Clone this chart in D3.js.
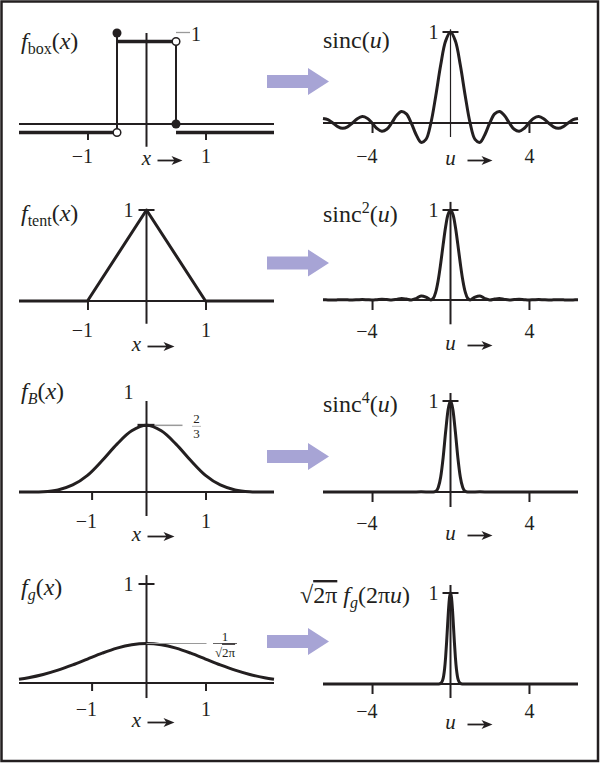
<!DOCTYPE html>
<html><head><meta charset="utf-8">
<script src="https://cdn.jsdelivr.net/npm/d3@7/dist/d3.min.js"></script>
<style>
body{margin:0;background:#fff}
svg{display:block}
text{font-family:"Liberation Serif","Times New Roman",serif;fill:#231f20}
</style>
</head><body>
<svg id="c" width="600" height="763"></svg>
<script>
// ---------------- data ----------------
const leftDomain = [-2.16, 2.16];
const rightDomain = [-6.5, 6.5];
const leftTicks = [-1, 1];
const leftTicksShifted = [-0.93, 1];
const leftTickLabels = ["−1", "1"];
const rightTicks = [-4, 4];
const rightTickLabels = ["−4", "4"];

// box filter: interval edges and value on each interval
const boxEdges = [-2.16, -0.5, 0.5, 2.16];
const boxValues = [0, 1, 0];

// tent filter
const tentX = [-2.16, -1, 0, 1, 2.16];
const tentY = [0, 0, 1, 0, 0];

// cubic B-spline
const bsplineX = [-2.16, -2, -1.75, -1.5, -1.25, -1, -0.75, -0.5, -0.25, 0, 0.25, 0.5, 0.75, 1, 1.25, 1.5, 1.75, 2, 2.16];
const bsplineY = [0, 0, 0.0026, 0.0208, 0.0703, 0.1667, 0.3151, 0.4792, 0.6120, 0.6667, 0.6120, 0.4792, 0.3151, 0.1667, 0.0703, 0.0208, 0.0026, 0, 0];
const bsplinePeak = 0.6667;

// gaussian
const gaussX = [-2.16, -2, -1.75, -1.5, -1.25, -1, -0.75, -0.5, -0.25, 0, 0.25, 0.5, 0.75, 1, 1.25, 1.5, 1.75, 2, 2.16];
const gaussY = [0.0387, 0.0540, 0.0863, 0.1295, 0.1826, 0.2420, 0.3011, 0.3521, 0.3867, 0.3989, 0.3867, 0.3521, 0.3011, 0.2420, 0.1826, 0.1295, 0.0863, 0.0540, 0.0387];
const gaussPeak = 0.3989;

// sinc(u)
const sincU = [-6.5, -6.25, -6, -5.75, -5.5, -5.25, -5, -4.75, -4.5, -4.25, -4, -3.75, -3.5, -3.25, -3, -2.75, -2.5, -2.25, -2, -1.75, -1.5, -1.25, -1, -0.75, -0.5, -0.25, 0,
  0.25, 0.5, 0.75, 1, 1.25, 1.5, 1.75, 2, 2.25, 2.5, 2.75, 3, 3.25, 3.5, 3.75, 4, 4.25, 4.5, 4.75, 5, 5.25, 5.5, 5.75, 6, 6.25, 6.5];
const sincY = [0.0490, 0.0360, 0, -0.0391, -0.0579, -0.0429, 0, 0.0474, 0.0707, 0.0530, 0, -0.0600, -0.0909, -0.0693, 0, 0.0818, 0.1273, 0.1000, 0, -0.1286, -0.2122, -0.1801, 0, 0.3001, 0.6366, 0.9003, 1,
  0.9003, 0.6366, 0.3001, 0, -0.1801, -0.2122, -0.1286, 0, 0.1000, 0.1273, 0.0818, 0, -0.0693, -0.0909, -0.0600, 0, 0.0530, 0.0707, 0.0474, 0, -0.0429, -0.0579, -0.0391, 0, 0.0360, 0.0490];

// sinc^2(u)
const sinc2U = [-6.5, -6.25, -6, -5.75, -5.5, -5.25, -5, -4.75, -4.5, -4.25, -4, -3.75, -3.5, -3.25, -3, -2.75, -2.5, -2.25, -2, -1.75, -1.5, -1.25, -1,
  -0.875, -0.75, -0.625, -0.5, -0.375, -0.25, -0.125, 0, 0.125, 0.25, 0.375, 0.5, 0.625, 0.75, 0.875,
  1, 1.25, 1.5, 1.75, 2, 2.25, 2.5, 2.75, 3, 3.25, 3.5, 3.75, 4, 4.25, 4.5, 4.75, 5, 5.25, 5.5, 5.75, 6, 6.25, 6.5];
const sinc2Y = [0.0024, 0.0013, 0, 0.0015, 0.0034, 0.0018, 0, 0.0022, 0.0050, 0.0028, 0, 0.0036, 0.0083, 0.0048, 0, 0.0067, 0.0162, 0.0100, 0, 0.0165, 0.0450, 0.0324, 0,
  0.0194, 0.0901, 0.2214, 0.4053, 0.6150, 0.8106, 0.9497, 1, 0.9497, 0.8106, 0.6150, 0.4053, 0.2214, 0.0901, 0.0194,
  0, 0.0324, 0.0450, 0.0165, 0, 0.0100, 0.0162, 0.0067, 0, 0.0048, 0.0083, 0.0036, 0, 0.0028, 0.0050, 0.0022, 0, 0.0018, 0.0034, 0.0015, 0, 0.0013, 0.0024];

// sinc^4(u)
const sinc4U = [-6.5, -5, -4, -3, -2, -1.5, -1, -0.875, -0.75, -0.625, -0.5, -0.375, -0.25, -0.125, 0, 0.125, 0.25, 0.375, 0.5, 0.625, 0.75, 0.875, 1, 1.5, 2, 3, 4, 5, 6.5];
const sinc4Y = [0, 0, 0, 0, 0, 0.0020, 0, 0.0004, 0.0081, 0.0490, 0.1643, 0.3782, 0.6570, 0.9019, 1, 0.9019, 0.6570, 0.3782, 0.1643, 0.0490, 0.0081, 0.0004, 0, 0.0020, 0, 0, 0, 0, 0];

// sqrt(2pi) f_g(2 pi u)
const gftU = [-6.5, -3, -1, -0.7, -0.6, -0.5, -0.45, -0.4, -0.35, -0.3, -0.25, -0.2, -0.15, -0.1, -0.05, 0, 0.05, 0.1, 0.15, 0.2, 0.25, 0.3, 0.35, 0.4, 0.45, 0.5, 0.6, 0.7, 1, 3, 6.5];
const gftY = [0, 0, 0, 0.0001, 0.0008, 0.0072, 0.0184, 0.0425, 0.0891, 0.1692, 0.2912, 0.4540, 0.6414, 0.8209, 0.9518, 1, 0.9518, 0.8209, 0.6414, 0.4540, 0.2912, 0.1692, 0.0891, 0.0425, 0.0184, 0.0072, 0.0008, 0.0001, 0, 0, 0];

// ---------------- drawing ----------------
const INK = "#231f20";
const GREY = "#9a9a9a";
const ARROW = "#a7a4d5";
const FONT = '"Liberation Serif","Times New Roman",serif';
const TICK_FS = 20, TITLE_FS = 24, SUB_FS = 16, NAME_FS = 21;
const svg = d3.select("#c");

svg.append("rect").attr("x", 1.5).attr("y", 1.5).attr("width", 596.5).attr("height", 759.5)
  .attr("fill", "none").attr("stroke", INK).attr("stroke-width", 2.5);

const L = {xRange: [19, 274]}, R = {xRange: [323, 578]};

function panel(o) {
  const side = o.side === "L" ? L : R;
  const dom = o.side === "L" ? leftDomain : rightDomain;
  const x = d3.scaleLinear().domain(dom).range(side.xRange);
  const y = d3.scaleLinear().domain([0, 1]).range([o.yZero, o.yZero - o.unit]);
  const g = svg.append("g");
  // horizontal axis
  g.append("line").attr("x1", x(dom[0])).attr("x2", x(dom[1])).attr("y1", y(0)).attr("y2", y(0))
    .attr("stroke", INK).attr("stroke-width", 2);
  // vertical axis
  g.append("line").attr("x1", x(0)).attr("x2", x(0)).attr("y1", y(o.vTop)).attr("y2", y(o.vBot))
    .attr("stroke", INK).attr("stroke-width", o.vW);
  // ticks
  const labels = o.side === "L" ? leftTickLabels : rightTickLabels;
  const ax = d3.axisBottom(x).tickValues(o.ticks).tickSize(o.tickLen).tickPadding(0)
    .tickFormat((d, i) => labels[i]);
  const ty = y(0) + (o.tickShift || 0);
  const ag = g.append("g").attr("transform", `translate(0,${ty})`).call(ax)
    .attr("font-family", FONT).attr("font-size", TICK_FS);
  ag.select(".domain").remove();
  ag.selectAll(".tick line").attr("stroke", INK).attr("stroke-width", 2);
  ag.selectAll(".tick text").attr("fill", INK).attr("dy", 0).attr("y", o.tickLabelY - ty)
    .attr("text-anchor", (d, i) => labels[i].startsWith("−") ? "end" : "middle")
    .attr("x", (d, i) => labels[i].startsWith("−") ? 5 : 0);
  // unit tick and label
  if (o.unitTick) {
    g.append("line").attr("x1", x(0) - 8).attr("x2", x(0) + 8).attr("y1", y(1)).attr("y2", y(1))
      .attr("stroke", INK).attr("stroke-width", 2);
  }
  if (o.unitLabel !== false) {
    g.append("text").attr("x", x(0) - (o.side === "L" ? 13 : 12)).attr("y", y(1) + 7).attr("text-anchor", "end")
      .attr("font-size", TICK_FS).text("1");
  }
  // axis name with arrow
  const nx = x(0) + o.nameDX;
  g.append("text").attr("x", nx).attr("y", o.nameY).attr("text-anchor", "middle")
    .attr("font-size", NAME_FS).attr("font-style", "italic").text(o.side === "L" ? "x" : "u");
  const a0 = x(0) + o.arrowDX[0], a1 = x(0) + o.arrowDX[1], ay = o.nameY - 4.5;
  g.append("line").attr("x1", a0).attr("x2", a1 - 5).attr("y1", ay).attr("y2", ay)
    .attr("stroke", INK).attr("stroke-width", 1.8);
  g.append("path").attr("d", `M${a1},${ay} L${a1 - 11},${ay - 4.5} L${a1 - 8},${ay} L${a1 - 11},${ay + 4.5} Z`)
    .attr("fill", INK);
  // title
  title(o.titleX, o.titleY, o.title);
  return {x, y, g};
}

function title(tx, ty, parts) {
  const t = svg.append("text").attr("x", tx).attr("y", ty).attr("font-size", TITLE_FS);
  let shift = 0;
  parts.forEach(p => {
    const s = p.sub ? 5 : p.sup ? -9 : 0;
    const ts = t.append("tspan").attr("dy", s - shift).text(p.t);
    shift = s;
    if (p.i) ts.attr("font-style", "italic");
    if (p.sub || p.sup) ts.attr("font-size", SUB_FS);
    if (p.over) ts.style("text-decoration", "overline");
  });
}

function curve(pn, xs, ys, kind) {
  const line = d3.line().x(d => pn.x(d[0])).y(d => pn.y(d[1])).curve(kind || d3.curveLinear);
  pn.g.append("path").attr("d", line(xs.map((v, i) => [v, ys[i]])))
    .attr("fill", "none").attr("stroke", INK).attr("stroke-width", 3)
    .attr("stroke-linejoin", "round");
}

function blockArrow(cy) {
  const x0 = 267, x1 = 308, x2 = 329;
  svg.append("path")
    .attr("d", `M${x0},${cy - 6.5} L${x1},${cy - 6.5} L${x1},${cy - 13.5} L${x2},${cy} L${x1},${cy + 13.5} L${x1},${cy + 6.5} L${x0},${cy + 6.5} Z`)
    .attr("fill", ARROW);
}

// ---- panel 1: box ----
const p1 = panel({side: "L", yZero: 124, unit: 91, vTop: 1, vBot: -0.25, vW: 2, ticks: leftTicks,
  tickShift: 8, tickLen: 8, tickLabelY: 163, titleX: 21, titleY: 49, nameDX: 0, arrowDX: [11, 36], nameY: 165,
  unitLabel: false,
  title: [{t: "f", i: true}, {t: "box", sub: true}, {t: "("}, {t: "x", i: true}, {t: ")"}]});
const OFF = 8.5;
boxValues.forEach((v, i) => {
  p1.g.append("line").attr("x1", p1.x(boxEdges[i])).attr("x2", p1.x(boxEdges[i + 1]))
    .attr("y1", p1.y(v) + OFF).attr("y2", p1.y(v) + OFF).attr("stroke", INK).attr("stroke-width", 3.5);
});
for (let i = 1; i < boxEdges.length - 1; i++) {
  const ex = p1.x(boxEdges[i]);
  const yOpen = p1.y(boxValues[i - 1]) + OFF, yFill = p1.y(boxValues[i]);
  p1.g.append("line").attr("x1", ex).attr("x2", ex).attr("y1", yOpen).attr("y2", yFill)
    .attr("stroke", INK).attr("stroke-width", 2);
  if (boxValues[i - 1] === 1) {
    p1.g.append("line").attr("x1", ex).attr("x2", ex + 14).attr("y1", p1.y(1) - 0.5).attr("y2", p1.y(1) - 0.5)
      .attr("stroke", GREY).attr("stroke-width", 1.3);
    p1.g.append("text").attr("x", ex + 15).attr("y", p1.y(1) + 8).attr("font-size", TICK_FS).text("1");
  }
  p1.g.append("circle").attr("cx", ex).attr("cy", yOpen).attr("r", 3.8)
    .attr("fill", "#fff").attr("stroke", INK).attr("stroke-width", 1.5);
  p1.g.append("circle").attr("cx", ex).attr("cy", yFill).attr("r", 4.5).attr("fill", INK);
}

// ---- panel 2: sinc ----
const p2 = panel({side: "R", yZero: 123, unit: 91, vTop: 1.03, vBot: -0.154, vW: 1.2, ticks: rightTicks,
  tickLen: 10, tickLabelY: 163, titleX: 323, titleY: 48, nameDX: 0, arrowDX: [17, 42], nameY: 165, unitTick: true,
  title: [{t: "sinc("}, {t: "u", i: true}, {t: ")"}]});
curve(p2, sincU, sincY, d3.curveCatmullRom);

// ---- panel 3: tent ----
const p3 = panel({side: "L", yZero: 301, unit: 91, vTop: 1, vBot: -0.25, vW: 2, ticks: leftTicks,
  tickLen: 9, tickLabelY: 337, titleX: 21, titleY: 221, nameDX: -10, arrowDX: [1, 28], nameY: 351, unitTick: true,
  title: [{t: "f", i: true}, {t: "tent", sub: true}, {t: "("}, {t: "x", i: true}, {t: ")"}]});
curve(p3, tentX, tentY);

// ---- panel 4: sinc^2 ----
const p4 = panel({side: "R", yZero: 300, unit: 90, vTop: 1.09, vBot: -0.27, vW: 2, ticks: rightTicks,
  tickLen: 10, tickLabelY: 338, titleX: 323, titleY: 222, nameDX: 0, arrowDX: [17, 42], nameY: 350, unitTick: true,
  title: [{t: "sinc"}, {t: "2", sup: true}, {t: "("}, {t: "u", i: true}, {t: ")"}]});
curve(p4, sinc2U, sinc2Y, d3.curveCatmullRom);

// ---- panel 5: B-spline ----
const p5 = panel({side: "L", yZero: 492, unit: 100, vTop: 0.91, vBot: -0.24, vW: 2, ticks: leftTicksShifted,
  tickLen: 8, tickLabelY: 528, titleX: 21, titleY: 399, nameDX: -10, arrowDX: [1, 28], nameY: 541,
  title: [{t: "f", i: true}, {t: "B", sub: true, i: true}, {t: "("}, {t: "x", i: true}, {t: ")"}]});
curve(p5, bsplineX, bsplineY, d3.curveCatmullRom);
{
  const yy = p5.y(bsplinePeak), x0 = p5.x(0);
  p5.g.append("line").attr("x1", x0 + 8).attr("x2", x0 + 36).attr("y1", yy).attr("y2", yy).attr("stroke", GREY).attr("stroke-width", 1.5);
  p5.g.append("line").attr("x1", x0 - 9).attr("x2", x0 + 8).attr("y1", yy).attr("y2", yy).attr("stroke", INK).attr("stroke-width", 3);
  p5.g.append("text").attr("x", 196.5).attr("y", yy - 2).attr("text-anchor", "middle").attr("font-size", 13).text("2");
  p5.g.append("line").attr("x1", 192).attr("x2", 201).attr("y1", yy + 1).attr("y2", yy + 1).attr("stroke", GREY).attr("stroke-width", 0.7);
  p5.g.append("text").attr("x", 196.5).attr("y", yy + 13).attr("text-anchor", "middle").attr("font-size", 13).text("3");
}

// ---- panel 6: sinc^4 ----
const p6 = panel({side: "R", yZero: 492, unit: 91, vTop: 1.088, vBot: -0.165, vW: 2, ticks: rightTicks,
  tickLen: 10, tickLabelY: 530, titleX: 323, titleY: 412, nameDX: 0, arrowDX: [17, 42], nameY: 540, unitTick: true,
  title: [{t: "sinc"}, {t: "4", sup: true}, {t: "("}, {t: "u", i: true}, {t: ")"}]});
curve(p6, sinc4U, sinc4Y, d3.curveMonotoneX);

// ---- panel 7: gaussian ----
const p7 = panel({side: "L", yZero: 683, unit: 99, vTop: 1.09, vBot: -0.152, vW: 2, ticks: leftTicksShifted,
  tickLen: 8, tickLabelY: 716, titleX: 21, titleY: 595, nameDX: -10, arrowDX: [1, 28], nameY: 727, unitTick: true,
  title: [{t: "f", i: true}, {t: "g", sub: true, i: true}, {t: "("}, {t: "x", i: true}, {t: ")"}]});
curve(p7, gaussX, gaussY, d3.curveCatmullRom);
{
  const yy = p7.y(gaussPeak), x0 = p7.x(0);
  p7.g.append("line").attr("x1", x0).attr("x2", x0 + 60).attr("y1", yy).attr("y2", yy).attr("stroke", GREY).attr("stroke-width", 1);
  p7.g.append("text").attr("x", 225).attr("y", yy - 3).attr("text-anchor", "middle").attr("font-size", 13).text("1");
  p7.g.append("line").attr("x1", 213).attr("x2", 237).attr("y1", yy).attr("y2", yy).attr("stroke", INK).attr("stroke-width", 0.7);
  const t = p7.g.append("text").attr("x", 225).attr("y", yy + 13).attr("text-anchor", "middle").attr("font-size", 13);
  t.append("tspan").text("√");
  t.append("tspan").style("text-decoration", "overline").text("2π");
}

// ---- panel 8: FT of gaussian ----
const p8 = panel({side: "R", yZero: 684, unit: 91, vTop: 1.088, vBot: -0.154, vW: 2, ticks: rightTicks,
  tickLen: 10, tickLabelY: 718, titleX: 300, titleY: 603, nameDX: 0, arrowDX: [17, 42], nameY: 729, unitTick: true,
  title: [{t: "√"}, {t: "2π", over: true}, {t: " "}, {t: "f", i: true}, {t: "g", sub: true, i: true}, {t: "(2π"}, {t: "u", i: true}, {t: ")"}]});
curve(p8, gftU, gftY, d3.curveMonotoneX);

// block arrows between columns
[81.5, 263, 456.5, 641.5].forEach(blockArrow);
</script>
</body></html>
